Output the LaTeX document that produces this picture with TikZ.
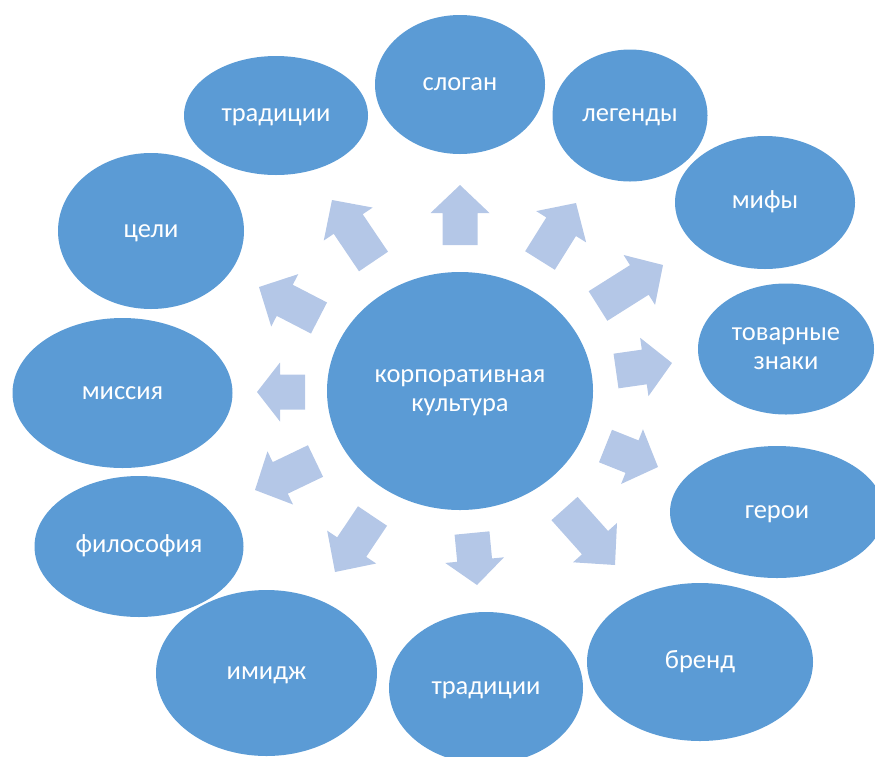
\documentclass[tikz,border=0pt]{standalone}
\usepackage{fontspec}
\setmainfont{Carlito}
\usetikzlibrary{calc,shapes.geometric}
\definecolor{ellblue}{HTML}{5B9BD5}
\definecolor{arrblue}{HTML}{B4C7E7}
\newcommand{\blockarrow}[3]{%
  \path (#1) coordinate (ab) (#2) coordinate (at);
  \path ($(at)!#3pt!(ab)$) coordinate (ah);
  \fill[arrblue] ($(ab)!17.5pt!90:(at)$) -- ($(ah)!17.5pt!-90:(ab)$) -- ($(ah)!29.5pt!-90:(ab)$) -- (at)
    -- ($(ah)!29.5pt!90:(ab)$) -- ($(ah)!17.5pt!90:(ab)$) -- ($(ab)!17.5pt!-90:(at)$) -- cycle;
}
\newcommand{\mytwolines}[2]{\begin{tabular}{@{}c@{}}#1\\#2\end{tabular}}
\begin{document}
\begin{tikzpicture}[x=1pt,y=-1pt,
  ell/.style={ellipse, fill=ellblue, inner sep=0pt, text=white,
    font=\fontsize{26.5}{29.5}\selectfont, text height=19pt, text depth=6.6pt},
  ell2/.style={ellipse, fill=ellblue, inner sep=0pt, text=white,
    font=\fontsize{26.5}{29.5}\selectfont},
]
\useasboundingbox (0,0) rectangle (875,756);
\clip (0,0) rectangle (875,756);
% surrounding ellipses
\node[ell, minimum width=170pt, minimum height=139pt] (slogan) at (460,84.5) {слоган};
\node[ell, minimum width=184pt, minimum height=119pt] (tradtop) at (276,115.5) {традиции};
\node[ell, minimum width=155pt, minimum height=132pt] (legend) at (630,115.5) {легенды};
\node[ell, minimum width=180pt, minimum height=133pt] (myth) at (765,202.5) {мифы};
\node[ell2, minimum width=176pt, minimum height=131pt] (tm) at (786,349) {\mytwolines{товарные}{знаки}};
\node[ell, minimum width=214pt, minimum height=132pt] (hero) at (777,512) {герои};
\node[ell, minimum width=226pt, minimum height=158pt] (brand) at (700,662) {бренд};
\node[ell, minimum width=194pt, minimum height=152pt] (tradbot) at (486,688) {традиции};
\node[ell, minimum width=221pt, minimum height=166pt] (image) at (266.5,673) {имидж};
\node[ell, minimum width=209pt, minimum height=141pt] (philo) at (139,546.5) {философия};
\node[ell, minimum width=220pt, minimum height=150pt] (mission) at (122.5,393) {миссия};
\node[ell, minimum width=186pt, minimum height=156pt] (goals) at (151,231) {цели};
% centre
\node[ell2, minimum width=266pt, minimum height=238pt] (core) at (460,391) {\mytwolines{корпоративная}{культура}};
% block arrows
\blockarrow{460,245}{460,185}{28}
\blockarrow{373.5,261.5}{332,200}{29}
\blockarrow{540,260.5}{576,203}{28}
\blockarrow{598,306}{663,265}{28}
\blockarrow{319,318}{259,287}{29}
\blockarrow{305,392}{257,392}{23}
\blockarrow{616,371}{672,363}{28}
\blockarrow{605.5,446}{658,467}{28}
\blockarrow{564.5,508.5}{615,565}{30}
\blockarrow{472,533}{477,585}{25}
\blockarrow{372.5,516}{335,572}{30}
\blockarrow{315.5,461}{255,490}{28}
\end{tikzpicture}
\end{document}
